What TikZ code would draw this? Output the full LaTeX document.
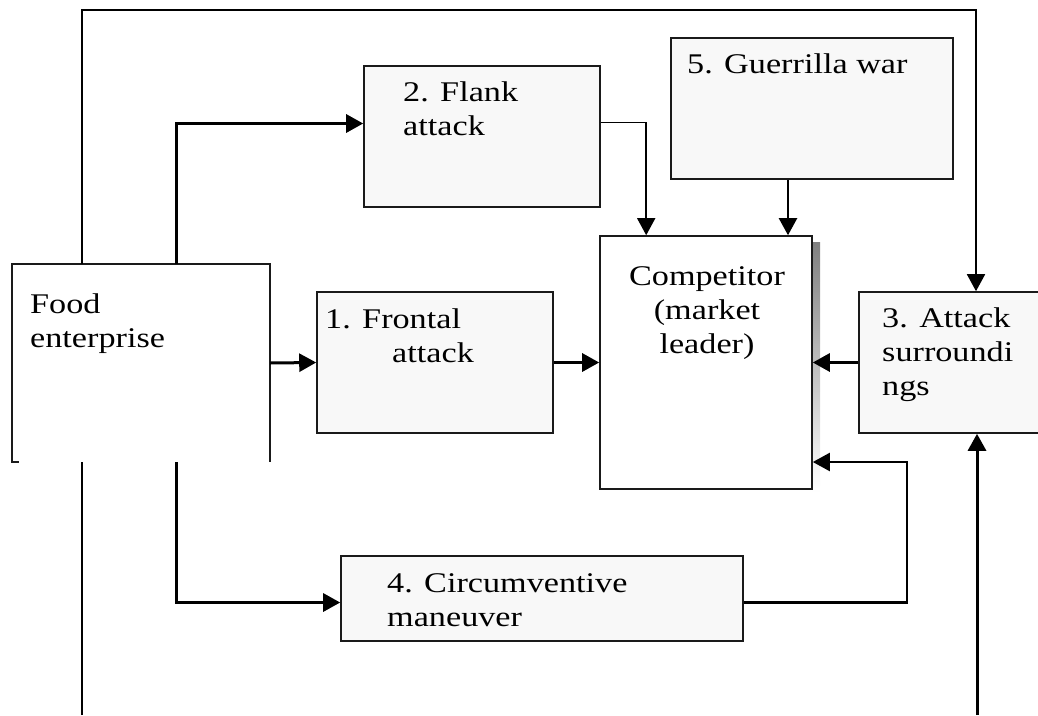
\documentclass[tikz,border=0pt]{standalone}
\usepackage{fontspec}
\setmainfont{Liberation Serif}[FakeStretch=1.2]
\usetikzlibrary{arrows.meta,fit}
\definecolor{boxfill}{HTML}{F8F8F8}
\definecolor{edge}{HTML}{1A1A1A}
\definecolor{shade}{HTML}{BDBDBD}
\begin{document}
\begin{tikzpicture}[x=1pt,y=-1pt,
  box/.style={draw=edge,line width=1.6pt,fill=boxfill,inner sep=0pt},
  plain/.style={draw=edge,line width=1.6pt,fill=white,inner sep=0pt},
  lbl/.style={font=\fontsize{28.5}{34}\selectfont,inner sep=0pt,anchor=base west,align=left},
  tip/.style={-{Triangle[length=17pt,width=18pt]}},
  link/.style={line width=3pt,tip},
  midlink/.style={line width=2.2pt,tip},
  thinlink/.style={line width=1.6pt,tip},
  frame/.style={line width=1.8pt}
]
\useasboundingbox (0,0) rectangle (1038,715);
\clip (0,0) rectangle (1038,715);

% guide positions for the branch and frame lines
\coordinate (xv) at (176,0);
\coordinate (tl) at (82,10);
\coordinate (tr) at (976,10);
\coordinate (bl) at (82,715);
\coordinate (br) at (977,715);
\coordinate (turn) at (907,462);

% shadow behind the competitor box
\fill[shade] (812,242) rectangle (820,492);

% boxes
\node[fit={(12,264) (270,462)},inner sep=0pt,fill=white] (fe) {};
\draw[edge,line width=1.6pt] ([xshift=7pt]fe.south west) -- (fe.south west) -- (fe.north west)
  -- (fe.north east) -- (fe.south east);
\node[box,fit={(364,66) (600,207)}] (b2) {};
\node[box,fit={(671,38) (953,179)}] (b5) {};
\node[box,fit={(317,292) (553,433)}] (b1) {};
\node[plain,fit={(600,236) (812,489)}] (comp) {};
\node[box,fit={(859,292) (1050,433)}] (b3) {};
\node[box,fit={(341,556) (743,641)}] (b4) {};

% labels (anchored at the baseline of their last line)
\node[lbl] (tfe) at (30,347) {Food\\enterprise};
\node[lbl] (t2) at (403,135) {2. Flank\\attack};
\node[lbl] (t5) at (687,73) {5. Guerrilla war};
\node[lbl] (t1) at (325,362) {1. Frontal\\\hspace*{67pt}attack};
\node[lbl,anchor=base,align=center] (tc) at (707,353) {Competitor\\(market\\leader)};
\node[lbl] (t3) at (882,395) {3. Attack\\surroundi\\ngs};
\node[lbl] (t4) at (387,626) {4. Circumventive\\maneuver};

% outer frame
\draw[frame] (bl) -- (fe.south -| bl);
\draw[frame,tip] (fe.north -| tl) -- (tl) -- (tr) -- (tr |- b3.north);
\draw[link] (br) -- (br |- b3.south);

% connectors
\draw[link] (fe.east) -- (b1.west);
\draw[link] (b1.east) -- (b1.east -| comp.west);
\draw[link] (b3.west) -- (b3.west -| comp.east);
\draw[link] (fe.north -| xv) |- ([yshift=13pt]b2.west);
\draw[link] (fe.south -| xv) |- ([yshift=-4pt]b4.west);
\draw[thinlink] ([yshift=14pt]b2.east) -| ([xshift=47pt]comp.north west);
\draw[midlink] ([xshift=-24pt]b5.south) -- ([xshift=-24pt]b5.south |- comp.north);
\draw[midlink] ([yshift=-4pt]b4.east) -| (turn) -- (turn -| comp.east);
\end{tikzpicture}
\end{document}
